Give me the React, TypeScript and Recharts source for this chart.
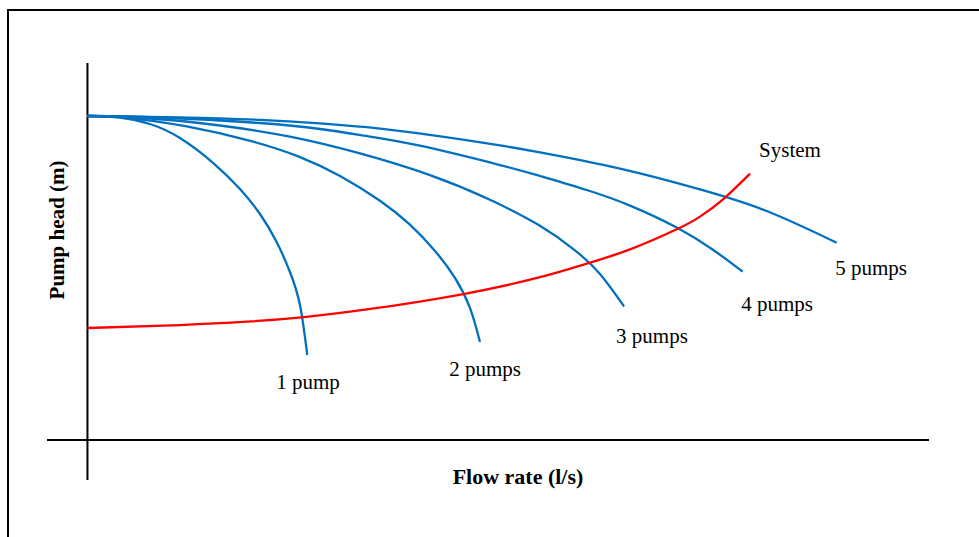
import { LineChart, Line, XAxis, YAxis, ReferenceLine, ReferenceDot } from "recharts";

// flow rate (arbitrary l/s units) and pump head (arbitrary m units)
const onePump = [
  { q: 0, h: 85.94 }, { q: 3.86, h: 85.54 }, { q: 7.43, h: 83.82 }, { q: 10.99, h: 80.11 },
  { q: 14.95, h: 73.47 }, { q: 18.12, h: 66.58 }, { q: 20.5, h: 59.95 }, { q: 22.48, h: 52.52 },
  { q: 24.06, h: 44.56 }, { q: 25.25, h: 35.81 }, { q: 26.12, h: 22.55 }
];
const twoPumps = [
  { q: 0, h: 85.94 }, { q: 3.86, h: 85.65 }, { q: 11.79, h: 83.18 }, { q: 19.7, h: 79.12 },
  { q: 25.25, h: 75.04 }, { q: 30.01, h: 70.05 }, { q: 34.76, h: 63.47 }, { q: 38.32, h: 57.11 },
  { q: 41.3, h: 50.15 }, { q: 43.67, h: 42.98 }, { q: 45.45, h: 35.03 }, { q: 46.64, h: 26.01 }
];
const threePumps = [
  { q: 0, h: 85.94 }, { q: 7.43, h: 85.28 }, { q: 15.75, h: 83.42 }, { q: 24.06, h: 80.45 },
  { q: 32.38, h: 76.0 }, { q: 40.7, h: 70.24 }, { q: 47.83, h: 63.71 }, { q: 53.77, h: 56.82 },
  { q: 57.93, h: 50.32 }, { q: 60.9, h: 44.02 }, { q: 63.76, h: 35.42 }
];
const fourPumps = [
  { q: 0, h: 85.94 }, { q: 8.62, h: 85.54 }, { q: 20.5, h: 84.08 }, { q: 27.63, h: 82.49 },
  { q: 33.18, h: 80.64 }, { q: 39.51, h: 78.06 }, { q: 49.02, h: 72.94 }, { q: 53.77, h: 70.03 },
  { q: 59.32, h: 66.31 }, { q: 64.47, h: 62.18 }, { q: 70.02, h: 56.35 }, { q: 74.37, h: 50.4 },
  { q: 77.86, h: 44.64 }
];
const fivePumps = [
  { q: 0, h: 85.94 }, { q: 10.99, h: 85.6 }, { q: 20.5, h: 84.93 }, { q: 27.63, h: 84.01 },
  { q: 33.18, h: 82.97 }, { q: 41.09, h: 80.8 }, { q: 49.02, h: 78.14 }, { q: 53.77, h: 76.29 },
  { q: 63.28, h: 71.99 }, { q: 72.79, h: 66.47 }, { q: 80.71, h: 60.74 }, { q: 89.03, h: 52.33 }
];
const systemCurve = [
  { q: 0, h: 29.71 }, { q: 10.99, h: 30.49 }, { q: 18.92, h: 31.38 }, { q: 25.45, h: 32.55 },
  { q: 33.18, h: 34.62 }, { q: 44.66, h: 38.72 }, { q: 53.77, h: 43.18 }, { q: 59.32, h: 46.77 },
  { q: 64.47, h: 50.56 }, { q: 70.02, h: 55.89 }, { q: 72.79, h: 59.26 }, { q: 75.56, h: 63.9 },
  { q: 78.73, h: 70.64 }
];

const pumpSeries = [
  { name: "1 pump", data: onePump },
  { name: "2 pumps", data: twoPumps },
  { name: "3 pumps", data: threePumps },
  { name: "4 pumps", data: fourPumps },
  { name: "5 pumps", data: fivePumps }
];

// where each curve name sits
const curveLabels = [
  { text: "1 pump", q: 26.2, h: 13.5 },
  { text: "2 pumps", q: 47.24, h: 17.0 },
  { text: "3 pumps", q: 67.08, h: 25.7 },
  { text: "4 pumps", q: 81.94, h: 34.35 },
  { text: "5 pumps", q: 93.11, h: 43.8 },
  { text: "System", q: 83.48, h: 75.1 }
];

const FONT = "'Liberation Serif', 'Times New Roman', serif";
const BLUE = "#0070C0";

const renderLabel = (text: string) => (props: any) => {
  const vb = props.viewBox || {};
  return (
    <text x={vb.x} y={vb.y} textAnchor="middle" fontFamily={FONT} fontSize={21} fill="#000">
      {text}
    </text>
  );
};

export default function App() {
  return (
    <div style={{ position: "absolute", left: 0, top: 0, width: 979, height: 537, overflow: "hidden", background: "#fff" }}>
      <div
        style={{
          position: "absolute",
          left: 7,
          top: 9,
          width: 1100,
          height: 700,
          border: "2px solid #000"
        }}
      />
      <LineChart
        width={979}
        height={537}
        margin={{ top: 63, right: 50, bottom: 57, left: 47 }}
        style={{ position: "absolute", left: 0, top: 0 }}
      >
        <XAxis type="number" dataKey="q" domain={[-4.81, 100]} hide allowDataOverflow />
        <YAxis type="number" dataKey="h" domain={[-10.61, 100]} hide allowDataOverflow />
        <ReferenceLine x={0} stroke="#000" strokeWidth={2} />
        <ReferenceLine y={0} stroke="#000" strokeWidth={2} />
        {pumpSeries.map((s) => (
          <Line
            key={s.name}
            data={s.data}
            dataKey="h"
            name={s.name}
            type="natural"
            stroke={BLUE}
            strokeWidth={2.3}
            dot={false}
            activeDot={false}
            isAnimationActive={false}
          />
        ))}
        <Line
          data={systemCurve}
          dataKey="h"
          name="System"
          type="natural"
          stroke="#FF0000"
          strokeWidth={2.3}
          dot={false}
          activeDot={false}
          isAnimationActive={false}
        />
        {curveLabels.map((l) => (
          <ReferenceDot
            key={l.text}
            x={l.q}
            y={l.h}
            r={0}
            fill="none"
            stroke="none"
            label={{ content: renderLabel(l.text) }}
          />
        ))}
      </LineChart>
      <div
        style={{
          position: "absolute",
          left: 518,
          top: 477,
          transform: "translate(-50%, -50%)",
          fontFamily: FONT,
          fontWeight: "bold",
          fontSize: 22,
          whiteSpace: "nowrap",
          lineHeight: 1
        }}
      >
        Flow rate (l/s)
      </div>
      <div
        style={{
          position: "absolute",
          left: 57,
          top: 230,
          transform: "translate(-50%, -50%) rotate(-90deg)",
          fontFamily: FONT,
          fontWeight: "bold",
          fontSize: 21,
          whiteSpace: "nowrap",
          lineHeight: 1
        }}
      >
        Pump head (m)
      </div>
    </div>
  );
}
